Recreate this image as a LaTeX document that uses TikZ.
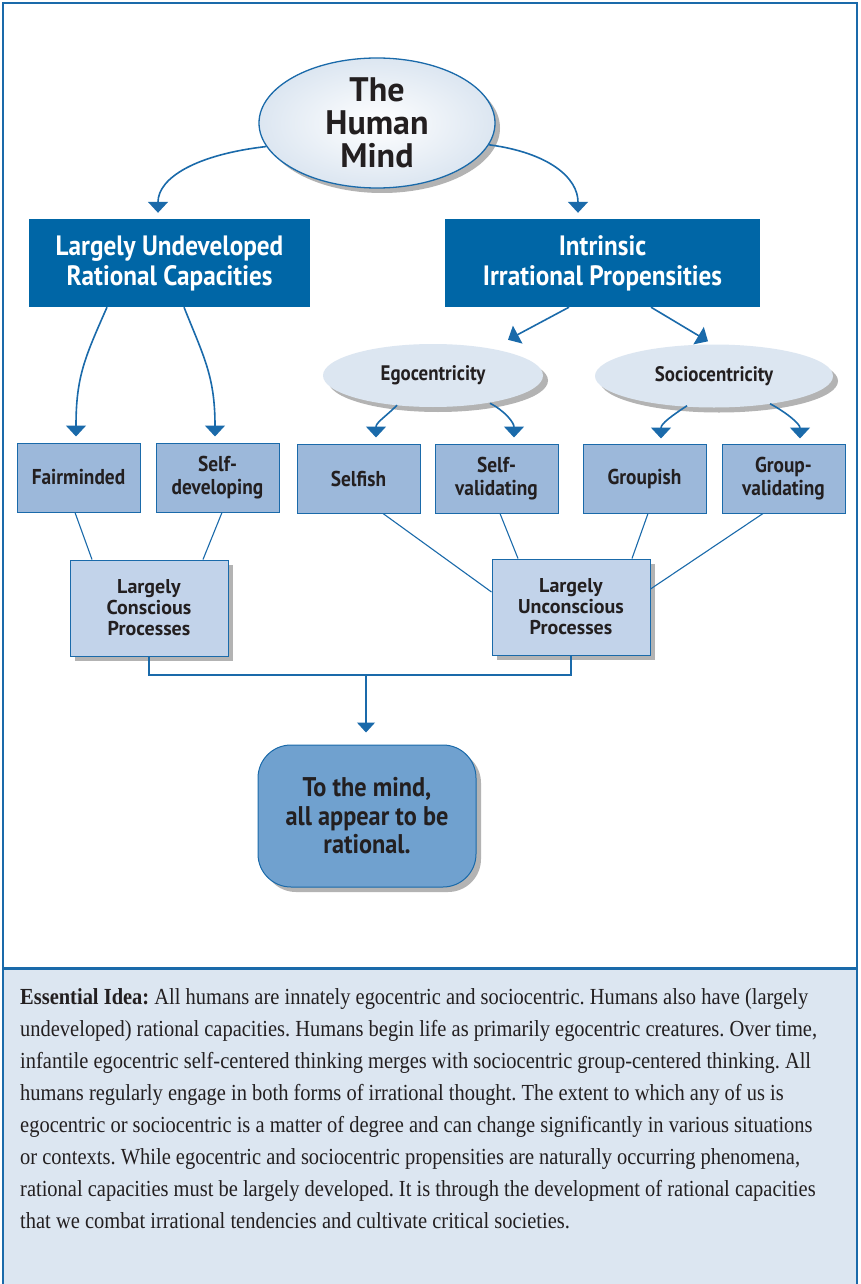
\documentclass[tikz,border=0pt]{standalone}
\usepackage{fontspec}
\setmainfont{PT Sans}
\newfontfamily\condfont[FakeStretch=0.9]{PT Sans}
\newfontfamily\notefont[FakeStretch=0.89]{Liberation Serif}
\usetikzlibrary{positioning,calc,arrows.meta,shapes.geometric,shadows}
\definecolor{deepblue}{HTML}{0066A6}
\definecolor{lineblue}{HTML}{1A6AAA}
\definecolor{traitblue}{HTML}{9CB8DA}
\definecolor{procblue}{HTML}{C2D3EA}
\definecolor{midblue}{HTML}{70A1CF}
\definecolor{paleblue}{HTML}{DCE6F1}
\definecolor{shadowgray}{HTML}{B3B3B3}
\definecolor{ink}{HTML}{231F20}

\begin{document}
\begin{tikzpicture}[x=1pt,y=1pt,
  link/.style={draw=lineblue,line width=1.6pt},
  arr/.style={link,-{Triangle[width=20pt,length=11pt]}},
  thinlink/.style={draw=lineblue,line width=1.1pt},
  castshadow/.style={drop shadow={shadow xshift=5pt,shadow yshift=-5pt,fill=shadowgray,opacity=1}},
  headbox/.style={fill=deepblue,text=white,align=center,inner sep=0pt,minimum height=88pt,
    font=\condfont\bfseries\fontsize{28}{30}\selectfont},
  tendency/.style={ellipse,fill=paleblue,castshadow,inner sep=0pt,minimum height=63pt,text=ink,
    font=\condfont\bfseries\fontsize{21}{22}\selectfont},
  trait/.style={draw=lineblue,line width=1pt,fill=traitblue,align=center,inner sep=0pt,
    minimum width=123pt,minimum height=69pt,text=ink,font=\condfont\bfseries\fontsize{21.5}{23}\selectfont},
  proc/.style={draw=lineblue,line width=1pt,fill=procblue,castshadow,align=center,inner sep=0pt,
    minimum width=158pt,minimum height=96pt,text=ink,font=\bfseries\fontsize{20}{21}\selectfont}]
\useasboundingbox (0,0) rectangle (860,-1284);
\fill[white] (0,0) rectangle (860,-1284);
% bottom panel and frame
\fill[paleblue] (3,-968) rectangle (857,-1290);
\draw[lineblue,line width=1.5pt] (3,-1290) -- (3,-3) -- (857,-3) -- (857,-1290);
\draw[lineblue,line width=3pt] (3,-968) -- (857,-968);

\node[ellipse,draw=lineblue,line width=1.3pt,inner color=white,outer color=paleblue,
  castshadow,minimum width=236pt,minimum height=130pt,inner sep=0pt,align=center,text=ink,
  font=\bfseries\fontsize{34}{33}\selectfont] (mind) at (377,-123) {The\\Human\\Mind};

\node[headbox,minimum width=281pt] (undev) at (169.5,-263) {Largely Undeveloped\\Rational Capacities};
\node[headbox,minimum width=315pt] (intr) at (602.5,-263) {Intrinsic\\Irrational Propensities};

\node[tendency,minimum width=220pt] (ego) at (433,-375.5) {Egocentricity};
\node[tendency,minimum width=238pt] (socio) at (714,-376) {Sociocentricity};

\node[trait] (fair) at (78.5,-477.5) {Fairminded};
\node[trait] (selfdev) at (217.5,-477.5) {Self-\\developing};
\node[trait] (selfish) at (358.5,-478.5) {Selfish};
\node[trait] (selfval) at (496.5,-478.5) {Self-\\validating};
\node[trait] (groupish) at (644.5,-478.5) {Groupish};
\node[trait] (groupval) at (783.5,-478.5) {Group-\\validating};

\node[proc] (consc) at (149,-608) {Largely\\Conscious\\Processes};
\node[proc] (uncon) at (571,-607) {Largely\\Unconscious\\Processes};

\node[draw=lineblue,line width=1pt,fill=midblue,castshadow,rounded corners=33pt,
  minimum width=218pt,minimum height=142pt,inner sep=0pt,align=center,text=ink,
  font=\condfont\bfseries\fontsize{27}{28.5}\selectfont] (verdict) at (367,-816)
  {To the mind,\\all appear to be\\rational.};

\draw[arr] (mind.192) .. controls +(-70,-8) and +(0,35) .. ([xshift=-11.5pt,yshift=6pt]undev.north);
\draw[arr] (mind.349) .. controls +(60,-8) and +(0,35) .. ([xshift=-24.5pt,yshift=6pt]intr.north);

\draw[arr] ([xshift=-62.5pt]undev.south) .. controls +(-22,-50) and +(0,60) .. ([xshift=-2.5pt,yshift=6pt]fair.north);
\draw[arr] ([xshift=14.5pt]undev.south) .. controls +(20,-50) and +(0,60) .. ([xshift=-2.5pt,yshift=6pt]selfdev.north);

\draw[arr] ([xshift=-33.5pt]intr.south) -- ([xshift=75pt,yshift=4pt]ego.north);
\draw[arr] ([xshift=48.5pt]intr.south) -- ([xshift=-6pt,yshift=3pt]socio.north);

\draw[arr] ([xshift=-36pt,yshift=2pt]ego.south) .. controls +(-12,-12) and +(0,15) .. ([xshift=17.5pt,yshift=6pt]selfish.north);
\draw[arr] ([xshift=57pt,yshift=4pt]ego.south) .. controls +(15,-8) and +(0,15) .. ([xshift=17.5pt,yshift=6pt]selfval.north);
\draw[arr] ([xshift=-27pt,yshift=2pt]socio.south) .. controls +(-15,-10) and +(0,15) .. ([xshift=16.5pt,yshift=5pt]groupish.north);
\draw[arr] ([xshift=56pt,yshift=4pt]socio.south) .. controls +(15,-8) and +(0,15) .. ([xshift=16.5pt,yshift=5pt]groupval.north);

\draw[thinlink] ([xshift=-3.5pt]fair.south) -- ([xshift=-57pt]consc.north);
\draw[thinlink] ([xshift=4.5pt]selfdev.south) -- ([xshift=54pt]consc.north);
\draw[thinlink] ([xshift=24.5pt]selfish.south) -- ([yshift=15pt]uncon.west);
\draw[thinlink] ([xshift=3.5pt]selfval.south) -- ([xshift=-53pt]uncon.north);
\draw[thinlink] ([xshift=3.5pt]groupish.south) -- ([xshift=61pt]uncon.north);
\draw[thinlink] ([xshift=-20.5pt]groupval.south) -- ([yshift=18pt]uncon.east);

\coordinate (fork) at (366,-675);
\draw[thinlink] (consc.south) |- (fork) -| (uncon.south);
\draw[thinlink,-{Triangle[width=18pt,length=10pt]}] (fork) -- ([yshift=12pt]verdict.north -| fork);

\node[anchor=north west,inner sep=0pt,align=left,text=ink,
  font=\notefont\fontsize{23}{32}\selectfont\frenchspacing] (idea) at (20,-988)
  {\textbf{Essential Idea:} All humans are innately egocentric and sociocentric. Humans also have (largely\\
  undeveloped) rational capacities. Humans begin life as primarily egocentric creatures. Over time,\\
  infantile egocentric self-centered thinking merges with sociocentric group-centered thinking. All\\
  humans regularly engage in both forms of irrational thought. The extent to which any of us is\\
  egocentric or sociocentric is a matter of degree and can change significantly in various situations\\
  or contexts. While egocentric and sociocentric propensities are naturally occurring phenomena,\\
  rational capacities must be largely developed. It is through the development of rational capacities\\
  that we combat irrational tendencies and cultivate critical societies.};
\end{tikzpicture}
\end{document}
